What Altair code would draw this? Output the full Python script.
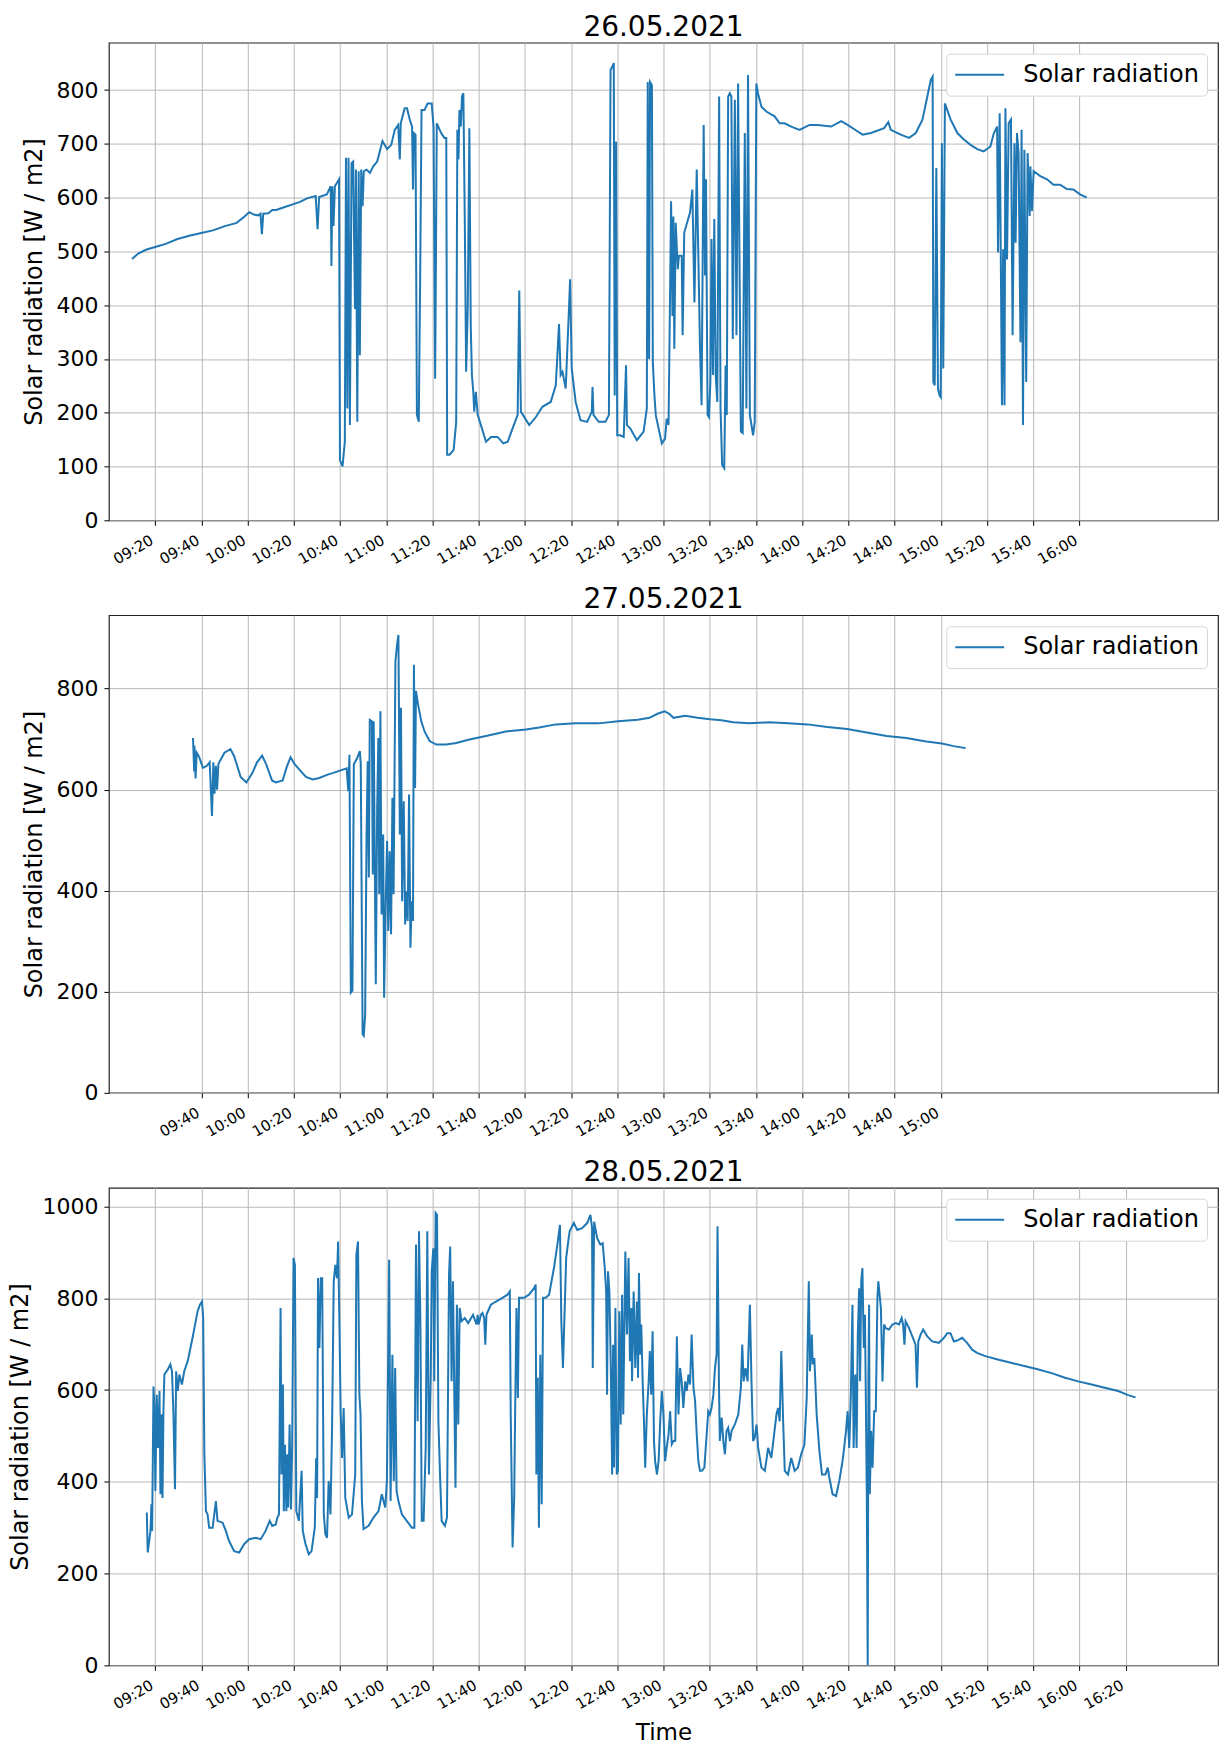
import altair as alt
import pandas as pd

# ---------------- data ----------------
TITLES = ["26.05.2021", "27.05.2021", "28.05.2021"]
DATES = ["2021-05-26", "2021-05-27", "2021-05-28"]
SERIES = "Solar radiation"
Y_TITLE = "Solar radiation [W / m2]"
X_TITLE = "Time"
X_RANGE = ["09:00", "17:00"]

ticks_26 = ["09:20", "09:40", "10:00", "10:20", "10:40", "11:00", "11:20", "11:40", "12:00",
            "12:20", "12:40", "13:00", "13:20", "13:40", "14:00", "14:20", "14:40", "15:00",
            "15:20", "15:40", "16:00"]
ticks_27 = ["09:40", "10:00", "10:20", "10:40", "11:00", "11:20", "11:40", "12:00", "12:20",
            "12:40", "13:00", "13:20", "13:40", "14:00", "14:20", "14:40", "15:00"]
ticks_28 = ["09:20", "09:40", "10:00", "10:20", "10:40", "11:00", "11:20", "11:40", "12:00",
            "12:20", "12:40", "13:00", "13:20", "13:40", "14:00", "14:20", "14:40", "15:00",
            "15:20", "15:40", "16:00", "16:20"]

yticks_26 = [0, 100, 200, 300, 400, 500, 600, 700, 800]
yticks_27 = [0, 200, 400, 600, 800]
yticks_28 = [0, 200, 400, 600, 800, 1000]
ymax = [888, 945, 1041]

# (time of day "HH:MM.m", W/m2)
sr_26 = [
    ("09:10", 486), ("09:12.7", 496), ("09:16", 503), ("09:20", 508), ("09:24.6", 514),
    ("09:29.7", 523), ("09:34.8", 529), ("09:40", 534), ("09:45", 539), ("09:50.2", 547),
    ("09:55.3", 553), ("09:58.7", 565), ("10:00.7", 573), ("10:03", 568), ("10:04.7", 567),
    ("10:05.6", 570), ("10:06.2", 532), ("10:06.8", 570), ("10:09", 571), ("10:10.7", 577),
    ("10:12.4", 577), ("10:15.8", 582), ("10:19.2", 587), ("10:22.7", 592), ("10:26", 599),
    ("10:29.5", 603), ("10:30.3", 541), ("10:31", 601), ("10:34.3", 606), ("10:36", 621),
    ("10:36.3", 473), ("10:36.7", 621), ("10:37.2", 547), ("10:37.8", 621), ("10:39.6", 634),
    ("10:40", 112), ("10:41.1", 100), ("10:42.1", 146), ("10:42.6", 674), ("10:43.2", 208),
    ("10:43.7", 674), ("10:44.3", 177), ("10:45", 664), ("10:45.7", 667), ("10:46.5", 393),
    ("10:46.9", 652), ("10:47.5", 183), ("10:48.1", 649), ("10:48.6", 307), ("10:49.2", 652),
    ("10:49.8", 584), ("10:50.3", 649), ("10:51.5", 652), ("10:53", 646), ("10:54.4", 658),
    ("10:56.1", 667), ("10:58.4", 705), ("11:00.4", 690), ("11:02.2", 698), ("11:03.7", 726),
    ("11:05.2", 735), ("11:05.9", 671), ("11:06.3", 738), ("11:08", 766), ("11:09", 766),
    ("11:10.2", 745), ("11:11.2", 732), ("11:11.6", 615), ("11:12", 720), ("11:12.7", 717),
    ("11:13.3", 196), ("11:14.1", 183), ("11:14.7", 448), ("11:15.3", 763), ("11:16.6", 763),
    ("11:17.9", 775), ("11:19.7", 775), ("11:20.5", 732), ("11:21.2", 263), ("11:21.9", 738),
    ("11:23.8", 720), ("11:25.2", 711), ("11:26", 711), ("11:26.4", 122), ("11:27.4", 122),
    ("11:29.2", 131), ("11:30.3", 183), ("11:30.8", 726), ("11:31.3", 671), ("11:31.7", 763),
    ("11:32.3", 732), ("11:32.8", 788), ("11:33.4", 794), ("11:34", 566), ("11:34.6", 276),
    ("11:35.3", 393), ("11:36", 729), ("11:36.6", 362), ("11:37.1", 270), ("11:37.7", 239),
    ("11:38.1", 202), ("11:38.8", 239), ("11:39.6", 196), ("11:41", 177), ("11:43.2", 146),
    ("11:45.4", 155), ("11:48.2", 155), ("11:50.7", 143), ("11:52.6", 146), ("11:54.7", 171),
    ("11:56.9", 196), ("11:57.6", 427), ("11:58.3", 202), ("12:01.9", 177), ("12:04.8", 192),
    ("12:07.6", 211), ("12:11.2", 220), ("12:13.4", 251), ("12:14.8", 365), ("12:15.5", 270),
    ("12:16.3", 276), ("12:17.7", 245), ("12:19.1", 393), ("12:19.6", 448), ("12:20.3", 282),
    ("12:22", 220), ("12:24.1", 186), ("12:27", 183), ("12:29", 202), ("12:29.3", 248),
    ("12:29.7", 196), ("12:32", 183), ("12:34.9", 183), ("12:36.4", 196), ("12:37.1", 837),
    ("12:37.8", 843), ("12:38.5", 850), ("12:38.9", 232), ("12:39.5", 704), ("12:40", 158),
    ("12:41.3", 158), ("12:42.8", 155), ("12:43.8", 288), ("12:44.2", 177), ("12:45.6", 171),
    ("12:48.5", 149), ("12:51.4", 165), ("12:52.8", 208), ("12:53.2", 815), ("12:53.8", 300),
    ("12:54.2", 815), ("12:55", 809), ("12:55.4", 294), ("12:56.1", 232), ("12:56.7", 195),
    ("12:59.3", 143), ("13:00.7", 152), ("13:01.4", 189), ("13:02.2", 177), ("13:02.9", 436),
    ("13:03.3", 593), ("13:03.9", 380), ("13:04.3", 565), ("13:04.7", 319), ("13:05.3", 553),
    ("13:06.2", 467), ("13:06.7", 492), ("13:07.9", 492), ("13:08.3", 344), ("13:09", 535),
    ("13:11.5", 572), ("13:12.5", 615), ("13:13.4", 405), ("13:14.4", 652), ("13:15.1", 492),
    ("13:15.8", 325), ("13:16.5", 214), ("13:17.4", 735), ("13:18", 455), ("13:18.4", 634),
    ("13:19.1", 196), ("13:19.7", 192), ("13:20.3", 257), ("13:20.8", 523), ("13:21.4", 270),
    ("13:22", 560), ("13:22.6", 270), ("13:23.3", 220), ("13:24.1", 788), ("13:24.7", 208),
    ("13:25.4", 103), ("13:26.3", 97), ("13:26.9", 288), ("13:27.4", 196), ("13:28", 788),
    ("13:28.7", 794), ("13:29.4", 788), ("13:30", 337), ("13:30.9", 782), ("13:31.6", 344),
    ("13:32.3", 812), ("13:33.5", 165), ("13:34.3", 162), ("13:35.2", 720), ("13:35.9", 208),
    ("13:36.6", 828), ("13:37.4", 196), ("13:38.8", 158), ("13:39.5", 183), ("13:40.2", 812),
    ("13:40.9", 794), ("13:42.4", 769), ("13:44.5", 760), ("13:48.1", 751), ("13:50.3", 738),
    ("13:52.4", 738), ("13:55.3", 732), ("13:58.9", 726), ("14:03.2", 735), ("14:06.8", 735),
    ("14:12.6", 732), ("14:16.9", 742), ("14:19.7", 735), ("14:22.6", 727), ("14:26.2", 717),
    ("14:29.8", 720), ("14:35.5", 729), ("14:37.3", 740), ("14:38.4", 726), ("14:42.7", 717),
    ("14:46.3", 711), ("14:49.2", 720), ("14:52.1", 745), ("14:54.2", 788), ("14:55.7", 819),
    ("14:56.5", 825), ("14:56.8", 257), ("14:57.4", 251), ("14:58.1", 655), ("14:58.8", 245),
    ("14:59.5", 232), ("15:00", 229), ("15:00.5", 701), ("15:01.1", 282), ("15:01.8", 775),
    ("15:02.8", 763), ("15:04.3", 745), ("15:07.2", 720), ("15:10", 708), ("15:12.9", 698),
    ("15:15.8", 690), ("15:18.6", 686), ("15:21.5", 695), ("15:23", 720), ("15:24.4", 732),
    ("15:24.8", 498), ("15:25.5", 757), ("15:26.5", 214), ("15:27", 504), ("15:27.6", 214),
    ("15:28", 766), ("15:28.7", 485), ("15:29.4", 738), ("15:30.4", 745), ("15:31.1", 344),
    ("15:31.9", 701), ("15:32.4", 516), ("15:33", 720), ("15:33.7", 683), ("15:34.5", 331),
    ("15:35", 726), ("15:35.6", 177), ("15:36.2", 689), ("15:37", 257), ("15:37.6", 683),
    ("15:38.5", 566), ("15:38.8", 658), ("15:39.5", 575), ("15:40.2", 649), ("15:43.1", 640),
    ("15:46", 634), ("15:48.8", 624), ("15:51.7", 624), ("15:54.6", 616), ("15:57.4", 615),
    ("16:00.3", 606), ("16:03.2", 600),
]

sr_27 = [
    ("09:36.4", 702), ("09:36.9", 636), ("09:37", 687), ("09:37.5", 622), ("09:38", 673),
    ("09:39", 665), ("09:40.7", 643), ("09:42.4", 647), ("09:43.6", 654), ("09:44.6", 548),
    ("09:45.2", 654), ("09:45.7", 592), ("09:46.3", 647), ("09:46.8", 600), ("09:47.4", 651),
    ("09:50", 673), ("09:52.6", 680), ("09:54.3", 665), ("09:57", 625), ("09:59.5", 614),
    ("10:02", 632), ("10:04.1", 654), ("10:06.3", 667), ("10:08", 651), ("10:10.6", 618),
    ("10:12.3", 614), ("10:15.2", 618), ("10:16.9", 644), ("10:18.6", 664), ("10:20.3", 651),
    ("10:23.1", 636), ("10:25.3", 625), ("10:28.2", 620), ("10:31", 623), ("10:35", 630),
    ("10:37.1", 633), ("10:42.9", 642), ("10:43.6", 597), ("10:44.1", 669), ("10:44.7", 198),
    ("10:45.4", 202), ("10:46", 650), ("10:47.5", 663), ("10:48.6", 676), ("10:49", 650),
    ("10:49.8", 116), ("10:50.3", 113), ("10:50.9", 155), ("10:51.5", 505), ("10:52", 656),
    ("10:52.5", 426), ("10:52.9", 738), ("10:53.8", 735), ("10:54.2", 432), ("10:54.6", 735),
    ("10:55.2", 379), ("10:55.5", 215), ("10:56.1", 564), ("10:56.6", 702), ("10:57", 393),
    ("10:57.5", 755), ("10:58", 353), ("10:58.7", 511), ("10:59.1", 188), ("10:59.8", 379),
    ("11:00.4", 498), ("11:00.9", 320), ("11:01.5", 478), ("11:02.1", 314), ("11:02.7", 584),
    ("11:03.2", 393), ("11:04", 854), ("11:04.7", 887), ("11:05.3", 906), ("11:05.9", 511),
    ("11:06.4", 762), ("11:06.9", 379), ("11:07.6", 577), ("11:08.2", 333), ("11:08.7", 399),
    ("11:09.3", 340), ("11:09.9", 590), ("11:10.5", 287), ("11:11", 379), ("11:11.6", 340),
    ("11:12", 847), ("11:12.5", 603), ("11:12.9", 795), ("11:13.8", 768), ("11:15.2", 735),
    ("11:16.6", 715), ("11:18.8", 696), ("11:21.7", 689), ("11:26", 689), ("11:30.3", 692),
    ("11:36", 699), ("11:43.2", 706), ("11:51.8", 715), ("12:00.5", 719), ("12:06.2", 723),
    ("12:13.4", 729), ("12:22", 731), ("12:31.8", 731), ("12:40.4", 735), ("12:48.9", 738),
    ("12:54", 742), ("12:57.4", 750), ("13:00.5", 755), ("13:02.5", 750), ("13:04.3", 742),
    ("13:09.4", 746), ("13:14.8", 742), ("13:20.2", 739), ("13:25.1", 737), ("13:30.2", 733),
    ("13:37.1", 731), ("13:45.6", 733), ("13:54", 731), ("14:02.4", 729), ("14:10.9", 724),
    ("14:19.5", 720), ("14:28", 713), ("14:36.6", 706), ("14:45.1", 702), ("14:53.7", 695),
    ("15:00.5", 691), ("15:05.6", 686), ("15:10.8", 682),
]

sr_28 = [
    ("09:16.4", 333), ("09:16.8", 246), ("09:17.6", 278), ("09:18", 293), ("09:18.4", 351),
    ("09:18.7", 293), ("09:19.3", 608), ("09:19.7", 561), ("09:20.1", 380), ("09:20.7", 590),
    ("09:21.3", 474), ("09:21.9", 598), ("09:22.3", 373), ("09:22.7", 547), ("09:23.2", 365),
    ("09:23.6", 554), ("09:24", 634), ("09:25.5", 645), ("09:26.6", 656), ("09:27.3", 641),
    ("09:27.9", 554), ("09:28.6", 384), ("09:29.1", 641), ("09:29.8", 598), ("09:30.5", 634),
    ("09:31.6", 612), ("09:32.6", 641), ("09:34.1", 663), ("09:36.2", 714), ("09:38.4", 772),
    ("09:39.4", 786), ("09:40.3", 793), ("09:40.8", 757), ("09:41.3", 460), ("09:42", 336),
    ("09:42.7", 329), ("09:43.4", 300), ("09:44.9", 300), ("09:46.3", 358), ("09:47", 315),
    ("09:49.2", 311), ("09:50.6", 293), ("09:52", 271), ("09:54.2", 249), ("09:56.4", 246),
    ("09:58.5", 264), ("10:00.7", 275), ("10:03.5", 278), ("10:05.7", 275), ("10:07.8", 293),
    ("10:09.6", 315), ("10:10.7", 304), ("10:12.2", 307), ("10:12.9", 322), ("10:13.6", 329),
    ("10:14.3", 779), ("10:14.7", 416), ("10:15.3", 612), ("10:15.7", 336), ("10:16.2", 481),
    ("10:16.8", 336), ("10:17.2", 460), ("10:17.6", 344), ("10:18.2", 525), ("10:18.8", 340),
    ("10:19.3", 474), ("10:19.9", 888), ("10:20.5", 873), ("10:21.1", 336), ("10:22.2", 315),
    ("10:23.4", 424), ("10:23.9", 293), ("10:25.1", 264), ("10:26.5", 242), ("10:27.7", 249),
    ("10:29.1", 300), ("10:29.7", 452), ("10:30.1", 365), ("10:30.5", 844), ("10:31.1", 692),
    ("10:31.7", 844), ("10:32.3", 844), ("10:33", 329), ("10:33.7", 286), ("10:34.4", 278),
    ("10:35.1", 402), ("10:35.9", 329), ("10:36.6", 525), ("10:37.3", 837), ("10:38", 873),
    ("10:38.7", 844), ("10:39.2", 924), ("10:39.7", 764), ("10:40.3", 554), ("10:40.9", 452),
    ("10:41.6", 561), ("10:42.3", 365), ("10:43.8", 322), ("10:45.2", 329), ("10:46.6", 416),
    ("10:47.1", 895), ("10:47.8", 924), ("10:48.4", 590), ("10:48.9", 547), ("10:49.5", 358),
    ("10:50.2", 297), ("10:52.4", 304), ("10:54.5", 322), ("10:56.7", 336), ("10:58.1", 373),
    ("10:59.6", 344), ("11:00.3", 402), ("11:01.3", 884), ("11:01.9", 358), ("11:02.7", 677),
    ("11:03.3", 402), ("11:03.9", 648), ("11:04.5", 380), ("11:05.3", 358), ("11:06.8", 329),
    ("11:08.9", 315), ("11:11.1", 300), ("11:12.2", 300), ("11:12.9", 917), ("11:13.6", 532),
    ("11:14.2", 946), ("11:14.8", 750), ("11:15.4", 315), ("11:16.2", 315), ("11:17.1", 474),
    ("11:17.8", 946), ("11:18.5", 416), ("11:19.3", 634), ("11:19.7", 859), ("11:20.4", 909),
    ("11:20.8", 619), ("11:21.4", 986), ("11:22", 982), ("11:22.6", 532), ("11:23.3", 416),
    ("11:24", 315), ("11:25.4", 304), ("11:26.3", 322), ("11:27.2", 851), ("11:27.7", 913),
    ("11:28.3", 619), ("11:28.9", 837), ("11:29.5", 583), ("11:30", 387), ("11:30.6", 786),
    ("11:31.2", 525), ("11:31.8", 779), ("11:32.6", 750), ("11:34", 757), ("11:35.5", 746),
    ("11:37.6", 764), ("11:39.1", 743), ("11:39.6", 764), ("11:40", 743), ("11:41", 764),
    ("11:41.7", 768), ("11:42.4", 757), ("11:42.9", 699), ("11:43.4", 764), ("11:45.3", 786),
    ("11:47.5", 793), ("11:50.3", 801), ("11:52.5", 808), ("11:53.5", 815), ("11:53.9", 547),
    ("11:54.7", 257), ("11:55.4", 365), ("11:55.8", 547), ("11:56.4", 779), ("11:57", 583),
    ("11:57.5", 801), ("11:59.7", 801), ("12:01.8", 808), ("12:04", 822), ("12:04.7", 830),
    ("12:05", 416), ("12:05.6", 627), ("12:06.1", 300), ("12:06.7", 677), ("12:07.3", 351),
    ("12:07.9", 801), ("12:09", 801), ("12:10.5", 808), ("12:12.6", 866), ("12:14.1", 917),
    ("12:15.2", 960), ("12:15.8", 750), ("12:16.5", 648), ("12:17.4", 801), ("12:17.9", 888),
    ("12:18.8", 924), ("12:19.4", 946), ("12:21.2", 964), ("12:22.7", 949), ("12:24.8", 953),
    ("12:27", 964), ("12:28.4", 982), ("12:29.1", 953), ("12:29.4", 648), ("12:30", 967),
    ("12:31.3", 931), ("12:32.7", 917), ("12:33.7", 920), ("12:34.6", 866), ("12:35.2", 815),
    ("12:35.6", 590), ("12:36", 859), ("12:36.6", 815), ("12:37.2", 656), ("12:37.8", 416),
    ("12:38.2", 699), ("12:38.6", 431), ("12:39.2", 779), ("12:39.8", 416), ("12:40.3", 424),
    ("12:40.9", 772), ("12:41.5", 525), ("12:42.1", 808), ("12:42.6", 547), ("12:43.5", 902),
    ("12:44.2", 721), ("12:44.9", 888), ("12:45.5", 663), ("12:46.1", 779), ("12:46.4", 619),
    ("12:47.1", 815), ("12:47.8", 648), ("12:48.5", 793), ("12:49", 627), ("12:49.4", 855),
    ("12:50", 677), ("12:50.4", 743), ("12:51", 619), ("12:51.6", 525), ("12:52.1", 431),
    ("12:52.8", 547), ("12:53.6", 619), ("12:54.1", 685), ("12:54.7", 590), ("12:55.3", 728),
    ("12:55.9", 489), ("12:56.4", 445), ("12:57.2", 416), ("12:57.9", 445), ("12:58.6", 532),
    ("12:59.3", 598), ("13:00", 547), ("13:00.7", 445), ("13:01.4", 474), ("13:02.2", 503),
    ("13:02.9", 554), ("13:03.6", 482), ("13:04.3", 489), ("13:05.1", 489), ("13:05.8", 717),
    ("13:06.5", 547), ("13:07.2", 648), ("13:07.9", 619), ("13:08.6", 561), ("13:09.4", 619),
    ("13:10.1", 598), ("13:10.8", 634), ("13:11.5", 612), ("13:12.2", 721), ("13:13", 605),
    ("13:13.7", 576), ("13:14.4", 503), ("13:15.1", 445), ("13:15.8", 424), ("13:16.6", 424),
    ("13:17.7", 431), ("13:18.7", 503), ("13:19.4", 554), ("13:20.1", 547), ("13:20.8", 561),
    ("13:21.6", 590), ("13:22.3", 648), ("13:23", 677), ("13:23.4", 957), ("13:24", 619),
    ("13:24.4", 489), ("13:25.2", 540), ("13:25.9", 489), ("13:26.6", 460), ("13:27.3", 511),
    ("13:28", 518), ("13:28.8", 489), ("13:29.5", 511), ("13:30.9", 525), ("13:32.4", 547),
    ("13:33.5", 605), ("13:34.1", 699), ("13:34.7", 619), ("13:35.5", 648), ("13:36.4", 619),
    ("13:37.4", 786), ("13:38.1", 619), ("13:38.8", 489), ("13:39.5", 496), ("13:40.3", 525),
    ("13:41", 474), ("13:42.4", 431), ("13:43.9", 424), ("13:45.3", 474), ("13:46.7", 452),
    ("13:48.9", 547), ("13:49.6", 561), ("13:50.3", 532), ("13:51", 685), ("13:51.8", 532),
    ("13:52.5", 424), ("13:53.9", 416), ("13:55.3", 452), ("13:56.8", 424), ("13:58.2", 431),
    ("13:59.6", 460), ("14:01", 481), ("14:02", 583), ("14:02.9", 837), ("14:03.4", 641),
    ("14:04.2", 721), ("14:04.6", 656), ("14:05.3", 670), ("14:06.3", 547), ("14:07.5", 467),
    ("14:08.6", 416), ("14:10.1", 416), ("14:11.1", 431), ("14:11.8", 409), ("14:13.2", 373),
    ("14:14.7", 369), ("14:16.1", 402), ("14:17.5", 445), ("14:18.2", 474), ("14:19", 511),
    ("14:19.7", 554), ("14:20.4", 474), ("14:21.1", 590), ("14:21.8", 786), ("14:22.3", 474),
    ("14:23", 634), ("14:23.6", 474), ("14:24.1", 721), ("14:24.7", 822), ("14:25.1", 619),
    ("14:25.6", 837), ("14:26.1", 866), ("14:26.7", 692), ("14:27.2", 764), ("14:27.6", 576),
    ("14:28", 373), ("14:28.4", 0), ("14:28.7", 619), ("14:29", 786), ("14:29.3", 373),
    ("14:29.9", 511), ("14:30.5", 431), ("14:31.2", 554), ("14:31.9", 554), ("14:32.6", 801),
    ("14:33", 837), ("14:34.1", 779), ("14:34.8", 619), ("14:35.5", 743), ("14:36.2", 735),
    ("14:37.6", 732), ("14:39.1", 743), ("14:40.5", 746), ("14:42", 743), ("14:43.1", 757),
    ("14:43.7", 743), ("14:44.3", 699), ("14:44.8", 750), ("14:46.3", 735), ("14:47.7", 717),
    ("14:49.1", 699), ("14:49.7", 605), ("14:50.3", 706), ("14:51.3", 721), ("14:52.4", 732),
    ("14:54.2", 717), ("14:56.3", 706), ("14:59.2", 703), ("15:01.4", 714), ("15:02.8", 724),
    ("15:04.2", 724), ("15:05.7", 706), ("15:07.1", 708), ("15:09.3", 714), ("15:11.4", 703),
    ("15:13.6", 688), ("15:15.7", 681), ("15:19.3", 674), ("15:25.1", 666), ("15:30.8", 659),
    ("15:36.6", 652), ("15:42.3", 645), ("15:48", 637), ("15:53.8", 627), ("15:59.5", 619),
    ("16:05.3", 612), ("16:11", 605), ("16:16.8", 598), ("16:21.1", 589), ("16:24.3", 584),
]

SERIES_DATA = [sr_26, sr_27, sr_28]
X_TICKS = [ticks_26, ticks_27, ticks_28]
Y_TICKS = [yticks_26, yticks_27, yticks_28]

FONT = "DejaVu Sans"
LINE_COLOR = "#1f77b4"


def to_minutes(s):
    h, m = s.split(":")
    return int(h) * 60 + float(m)


def make_dt(date, hm):
    y, mo, d = (int(p) for p in date.split("-"))
    h, m = hm.split(":")
    return alt.DateTime(year=y, month=mo, date=d, hours=int(h), minutes=int(m))


def panel(i, last):
    date = DATES[i]
    df = pd.DataFrame(SERIES_DATA[i], columns=["t", "value"])
    mins = df["t"].map(to_minutes)
    df["time"] = (pd.Timestamp(date) + pd.to_timedelta(mins, unit="m")).dt.round("s")
    df["series"] = SERIES
    df = df[["time", "value", "series"]]

    xaxis_kw = dict(
        values=[make_dt(date, s) for s in X_TICKS[i]],
        format="%H:%M",
        labelAngle=-30,
        labelAlign="right",
        labelBaseline="top",
        labelFontSize=15,
        labelPadding=7,
        labelOffset=-7,
        grid=True,
    )
    if last:
        xaxis_kw["title"] = X_TITLE
    x_enc = alt.X(
        "time:T",
        scale=alt.Scale(domain=[make_dt(date, X_RANGE[0]), make_dt(date, X_RANGE[1])]),
        axis=alt.Axis(**xaxis_kw),
    )
    if not last:
        x_enc = x_enc.title(None)

    y_enc = alt.Y(
        "value:Q",
        scale=alt.Scale(domain=[0, ymax[i]], nice=False, zero=True),
        axis=alt.Axis(values=Y_TICKS[i], title=Y_TITLE, grid=True, format="d"),
    )
    color = alt.Color(
        "series:N",
        scale=alt.Scale(domain=[SERIES], range=[LINE_COLOR]),
        legend=alt.Legend(
            title=None,
            orient="top-right",
            offset=11,
            symbolType="stroke",
            symbolSize=2400,
            symbolStrokeWidth=2,
            clipHeight=26,
            labelFontSize=24,
            labelFont=FONT,
            labelColor="black",
            labelOffset=18,
            labelLimit=400,
            padding=8,
            fillColor="white",
            strokeColor="#d6d6d6",
            cornerRadius=4,
        ),
    )
    return (
        alt.Chart(df)
        .mark_line(strokeWidth=2)
        .encode(x=x_enc, y=y_enc, color=color)
        .properties(
            width=1110,
            height=478,
            title=alt.TitleParams(
                text=TITLES[i], fontSize=28, font=FONT, fontWeight="normal",
                color="black", anchor="middle", offset=1,
            ),
        )
    )


chart = (
    alt.vconcat(panel(0, False), panel(1, False), panel(2, True), spacing=95, bounds="flush")
    .resolve_scale(x="independent", y="independent", color="independent")
    .resolve_legend(color="independent")
    .properties(padding={"left": 8, "top": 12, "right": 0, "bottom": 0}, background="white")
    .configure_view(stroke="#222222", strokeWidth=1.2)
    .configure_axis(
        labelFont=FONT,
        titleFont=FONT,
        labelColor="black",
        titleColor="black",
        labelFontSize=22,
        titleFontSize=24,
        titleFontWeight="normal",
        tickColor="black",
        tickSize=5,
        labelPadding=6,
        titlePadding=9,
        domain=False,
        gridColor="#b8b8b8",
        gridWidth=1,
    )
    .configure_axisX(labelFontSize=15, titleFontSize=23, titlePadding=10)
)

chart.save("out.html", embed_options={"renderer": "svg", "actions": False})
